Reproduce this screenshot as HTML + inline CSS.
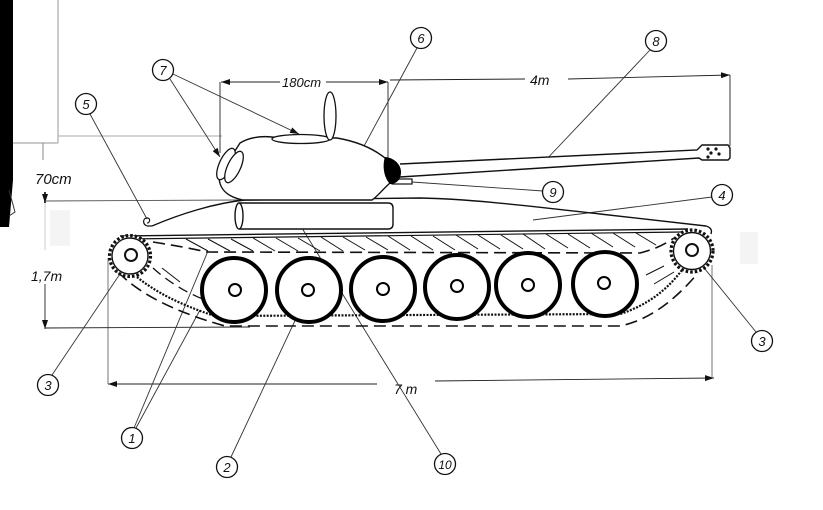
<!DOCTYPE html>
<html><head><meta charset="utf-8"><style>
html,body{margin:0;padding:0;background:#fff;}
svg{display:block;}
text{font-family:"Liberation Sans",sans-serif;font-style:italic;fill:#111;}
</style></head><body>
<svg width="823" height="510" viewBox="0 0 823 510" xmlns="http://www.w3.org/2000/svg">
<defs>
<marker id="arr" markerUnits="userSpaceOnUse" markerWidth="9" markerHeight="6" refX="9" refY="3" orient="auto"><path d="M0,0 L9,3 L0,6 z" fill="#111"/></marker>
</defs>
<rect width="823" height="510" fill="#fff"/>

<!-- left black bar & frame -->
<polygon points="0,0 13,0 13,180 9,227 0,227" fill="#000"/>
<path d="M9,190 L15,212 L9,216" fill="none" stroke="#333" stroke-width="1"/>
<line x1="58" y1="0" x2="58" y2="143" stroke="#aaa" stroke-width="1.2"/>
<line x1="13" y1="143" x2="58" y2="143" stroke="#aaa" stroke-width="1.2"/>
<line x1="58" y1="136" x2="222" y2="136" stroke="#bbb" stroke-width="1.2"/>
<line x1="43" y1="143" x2="43" y2="160" stroke="#888" stroke-width="1"/>
<line x1="45" y1="201" x2="45" y2="250" stroke="#ccc" stroke-width="1"/>
<rect x="50" y="210" width="20" height="36" fill="#f4f4f4"/>
<rect x="740" y="232" width="18" height="32" fill="#f4f4f4"/>

<!-- dimension lines -->
<g stroke="#222" stroke-width="0.9" fill="none">
<line x1="280" y1="82" x2="221" y2="82" marker-end="url(#arr)"/>
<line x1="326" y1="82" x2="388" y2="82" marker-end="url(#arr)"/>
<line x1="390" y1="80" x2="525" y2="79"/>
<line x1="568" y1="79" x2="730" y2="75" marker-end="url(#arr)"/>
<line x1="220" y1="82" x2="220" y2="153"/>
<line x1="388" y1="82" x2="388" y2="158"/>
<line x1="730" y1="75" x2="730" y2="146"/>
<line x1="377" y1="384" x2="108" y2="384" marker-end="url(#arr)"/>
<line x1="435" y1="381" x2="714" y2="378" marker-end="url(#arr)"/>
<line x1="108" y1="258" x2="108" y2="384" stroke="#666"/>
<line x1="712" y1="265" x2="712" y2="378" stroke="#666"/>
<line x1="45" y1="192" x2="45" y2="203" stroke-width="1.8" marker-end="url(#arr)"/>
<line x1="45" y1="201" x2="240" y2="200" stroke="#555"/>
<line x1="45" y1="284" x2="45" y2="329" marker-end="url(#arr)"/>
<line x1="45" y1="328" x2="250" y2="327"/>
</g>
<text x="35" y="184" font-size="15">70cm</text>
<text x="31" y="281" font-size="14">1,7m</text>
<text x="282" y="87" font-size="13">180cm</text>
<text x="530" y="85" font-size="14">4m</text>
<text x="394" y="394" font-size="14">7 m</text>

<!-- leader lines -->
<g stroke="#333" stroke-width="0.9" fill="none">
<line x1="170" y1="79" x2="220" y2="157" marker-end="url(#arr)"/>
<line x1="173" y1="74" x2="299" y2="134" marker-end="url(#arr)"/>
<line x1="90" y1="114" x2="147" y2="219"/>
<line x1="417" y1="48" x2="350" y2="172"/>
<line x1="650" y1="50" x2="543" y2="163"/>
<line x1="543" y1="191" x2="412" y2="182"/>
<line x1="712" y1="197" x2="533" y2="220"/>
<line x1="756" y1="332" x2="692" y2="253"/>
<line x1="52" y1="375" x2="128" y2="262"/>
<line x1="134" y1="428" x2="208" y2="251"/>
<line x1="136" y1="428" x2="200" y2="310"/>
<line x1="231" y1="457" x2="308" y2="293"/>
<line x1="441" y1="454" x2="297" y2="220"/>
</g>

<!-- track: hatching -->
<g stroke="#111" stroke-width="1" fill="none">
<line x1="186" y1="239" x2="208" y2="251"/>
<line x1="208" y1="239" x2="230" y2="251"/>
<line x1="231" y1="239" x2="253" y2="251"/>
<line x1="253" y1="238" x2="275" y2="251"/>
<line x1="276" y1="238" x2="298" y2="251"/>
<line x1="298" y1="238" x2="320" y2="251"/>
<line x1="321" y1="237" x2="343" y2="251"/>
<line x1="343" y1="237" x2="365" y2="250"/>
<line x1="366" y1="237" x2="388" y2="250"/>
<line x1="388" y1="236" x2="410" y2="250"/>
<line x1="411" y1="236" x2="433" y2="250"/>
<line x1="433" y1="236" x2="455" y2="250"/>
<line x1="456" y1="235" x2="478" y2="249"/>
<line x1="478" y1="235" x2="500" y2="249"/>
<line x1="501" y1="235" x2="523" y2="249"/>
<line x1="523" y1="234" x2="545" y2="249"/>
<line x1="546" y1="234" x2="568" y2="248"/>
<line x1="568" y1="234" x2="590" y2="248"/>
<line x1="591" y1="233" x2="613" y2="247"/>
<line x1="613" y1="233" x2="635" y2="247"/>
<line x1="636" y1="233" x2="656" y2="245"/>
<line x1="646" y1="275" x2="664" y2="266"/>
<line x1="654" y1="284" x2="674" y2="272"/>
<line x1="162" y1="268" x2="180" y2="282"/>
</g>
<!-- track lines -->
<g fill="none" stroke="#111">
<path d="M120,236 L688,229" stroke-width="1.4"/>
<path d="M126,239 L682,232" stroke-width="1.2"/>
<path d="M153,242 Q185,247 207,252 L640,253 Q660,248 674,238" stroke-width="1.6" stroke-dasharray="12 6"/>
<path d="M118,272 Q150,305 225,326 L620,326 Q660,318 698,273" stroke-width="1.6" stroke-dasharray="12 6"/>
<path d="M153,268 Q175,288 205,300" stroke-width="1.3" stroke-dasharray="10 6"/>
<path d="M137,277 Q165,300 215,316 L620,314 Q658,302 682,270" stroke-width="2.2" stroke-dasharray="2 1.4"/>
</g>

<!-- sprockets -->
<g fill="#fff" stroke="#111">
<circle cx="130" cy="256" r="20.5" stroke-width="3.2" stroke-dasharray="2.6 2"/>
<circle cx="130" cy="256" r="18" stroke-width="1.4"/>
<circle cx="131" cy="255" r="6" stroke-width="2"/>
<circle cx="692" cy="251" r="21" stroke-width="3.2" stroke-dasharray="2.6 2"/>
<circle cx="692" cy="251" r="18.5" stroke-width="1.4"/>
<circle cx="692" cy="250" r="6" stroke-width="2"/>
</g>

<!-- road wheels -->
<g fill="#fff" stroke="#000">
<circle cx="234" cy="290" r="32" stroke-width="4"/>
<circle cx="309" cy="290" r="32" stroke-width="4"/>
<circle cx="383" cy="289" r="32" stroke-width="4"/>
<circle cx="457" cy="287" r="32" stroke-width="4"/>
<circle cx="528" cy="285" r="32" stroke-width="4"/>
<circle cx="605" cy="284" r="32" stroke-width="4"/>
<circle cx="235" cy="290" r="6" stroke-width="2"/>
<circle cx="308" cy="290" r="6" stroke-width="2"/>
<circle cx="383" cy="289" r="6" stroke-width="2"/>
<circle cx="457" cy="286" r="6" stroke-width="2"/>
<circle cx="528" cy="285" r="6" stroke-width="2"/>
<circle cx="604" cy="283" r="6" stroke-width="2"/>
</g>

<!-- hull -->
<path d="M152,226 C180,214 215,203 245,200 L420,198 C470,199 520,205 600,214 L706,226 Q713,228 711,234" fill="none" stroke="#111" stroke-width="1.4"/>
<path d="M147,226 C142,224 143,218 147,218 C151,218 150,223 147,223 M147,226 L152,226" fill="none" stroke="#111" stroke-width="1.2"/>
<!-- drum -->
<path d="M239,203 L388,203 Q393,203 393,208 L393,224 Q393,229 388,229 L239,229" fill="#fff" stroke="#111" stroke-width="1.4"/>
<ellipse cx="239" cy="216" rx="4" ry="13" fill="#fff" stroke="#111" stroke-width="1.4"/>

<!-- barrel -->
<path d="M400,164 L697,150 L702,145 L728,145 L730,148 L730,158 L728,160 L702,160 L699,158 L400,177" fill="#fff" stroke="#111" stroke-width="1.4"/>
<g fill="#111"><circle cx="708" cy="149" r="1.6"/><circle cx="716" cy="149" r="1.6"/><circle cx="711" cy="153" r="1.6"/><circle cx="719" cy="154" r="1.6"/><circle cx="708" cy="157" r="1.6"/></g>
<!-- coax -->
<rect x="392" y="179" width="20" height="5" fill="#fff" stroke="#111" stroke-width="1.2"/>

<!-- turret -->
<path d="M243,200 C228,197 219,190 219,176 L240,143 C250,137 262,136 272,137 L337,138 C360,142 375,150 385,158 L390,183 C382,190 378,196 372,200 Z" fill="#fff" stroke="#111" stroke-width="1.4"/>
<ellipse cx="301" cy="139" rx="29" ry="4.5" fill="#fff" stroke="#111" stroke-width="1.3"/>
<ellipse cx="330" cy="116" rx="6" ry="24" fill="#fff" stroke="#111" stroke-width="1.3"/>
<ellipse cx="226" cy="164" rx="6.5" ry="17" transform="rotate(25 226 164)" fill="#fff" stroke="#111" stroke-width="1.3"/>
<ellipse cx="234" cy="167" rx="6.5" ry="17" transform="rotate(25 234 167)" fill="#fff" stroke="#111" stroke-width="1.3"/>
<path d="M385,157 C395,158 401,165 401,172 C401,180 396,184 390,184 C384,178 382,166 385,157 Z" fill="#000"/>

<!-- label circles -->
<g fill="#fff" stroke="#111" stroke-width="1.3">
<circle cx="163" cy="70" r="10.5"/>
<circle cx="86" cy="104" r="10.5"/>
<circle cx="421" cy="38" r="10.5"/>
<circle cx="656" cy="41" r="10.5"/>
<circle cx="553" cy="192" r="10.5"/>
<circle cx="722" cy="195" r="10.5"/>
<circle cx="762" cy="341" r="10.5"/>
<circle cx="48" cy="385" r="10.5"/>
<circle cx="132" cy="438" r="10.5"/>
<circle cx="227" cy="467" r="10.5"/>
<circle cx="445" cy="464" r="10.5"/>
</g>
<g font-size="13" text-anchor="middle">
<text x="163" y="75">7</text>
<text x="86" y="109">5</text>
<text x="421" y="43">6</text>
<text x="656" y="46">8</text>
<text x="553" y="197">9</text>
<text x="722" y="200">4</text>
<text x="762" y="346">3</text>
<text x="48" y="390">3</text>
<text x="132" y="443">1</text>
<text x="227" y="472">2</text>
<text x="445" y="469" font-size="12">10</text>
</g>
</svg>
</body></html>
